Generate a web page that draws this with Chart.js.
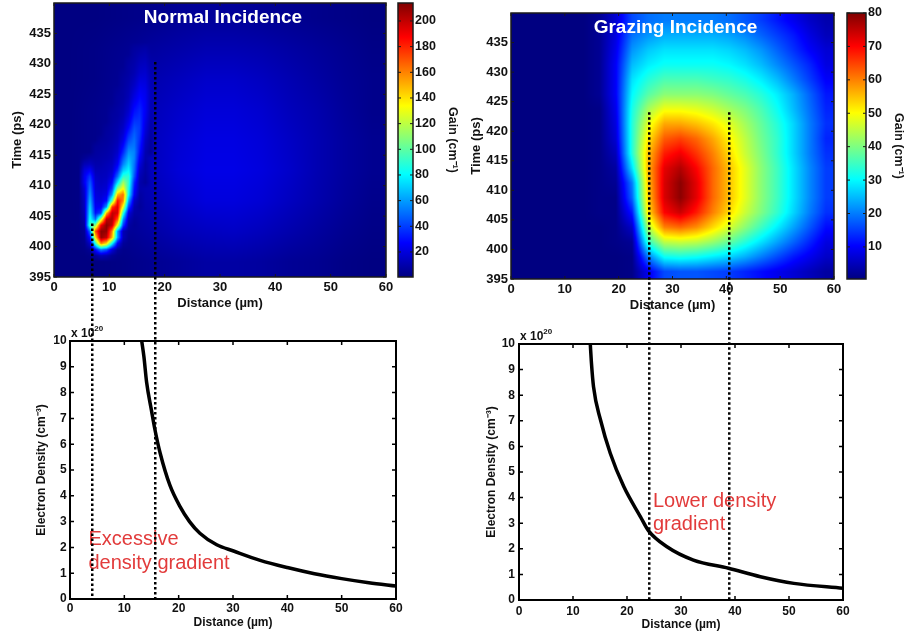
<!DOCTYPE html>
<html>
<head>
<meta charset="utf-8">
<title>Gain maps and electron density</title>
<script src="https://cdn.jsdelivr.net/npm/chart.js@4.4.1/dist/chart.umd.min.js"></script>
<style>
  body { margin: 0; background: #fff; }
  #page { position: relative; width: 906px; height: 636px; overflow: hidden; background: #fff; }
  #page canvas { position: absolute; }
</style>
</head>
<body>
<div id="page">
  <canvas id="gain_normal"></canvas>
  <canvas id="bar_normal"></canvas>
  <canvas id="gain_grazing"></canvas>
  <canvas id="bar_grazing"></canvas>
  <canvas id="density_normal"></canvas>
  <canvas id="density_grazing"></canvas>
  <canvas id="markers" width="906" height="636" style="left:0;top:0"></canvas>
</div>
<script>
const _ = null;

const distanceTicks = [0, 10, 20, 30, 40, 50, 60];
const timeTicks = [395, 400, 405, 410, 415, 420, 425, 430, 435];
const densityTicks = [0, 1, 2, 3, 4, 5, 6, 7, 8, 9, 10];
const normalGainTicks = [20, 40, 60, 80, 100, 120, 140, 160, 180, 200];
const grazingGainTicks = [10, 20, 30, 40, 50, 60, 70, 80];
const normalGainRange = [0.5, 214];
const grazingGainRange = [0.4, 80];

// normal incidence gain (cm^-1), broad background sampled every 5 um x 5 ps
const normalBgDistance = [2.5, 7.5, 12.5, 17.5, 22.5, 27.5, 32.5, 37.5, 42.5, 47.5, 52.5, 57.5];
const normalBgTime = [437.5, 432.5, 427.5, 422.5, 417.5, 412.5, 407.5, 402.5, 397.5];
const normalBgGain = [
  [1, 1, 2, 3, 5, 6, 6, 5, 4, 3, 2, 1],
  [1, 2, 4, 7, 9, 11, 11, 10, 8, 6, 4, 2],
  [1, 2, 5, 10, 13, 16, 16, 14, 11, 8, 5, 3],
  [1, 3, 6, 12, 16, 19, 19, 17, 13, 10, 6, 3],
  [1, 3, 7, 13, 18, 21, 21, 19, 15, 11, 7, 4],
  [1, 3, 7, 13, 19, 22, 22, 20, 16, 11, 7, 4],
  [1, 3, 6, 11, 16, 20, 20, 18, 14, 10, 6, 3],
  [1, 2, 4, 8, 12, 14, 15, 13, 10, 7, 4, 2],
  [1, 1, 2, 4, 6, 8, 8, 7, 5, 4, 2, 1],
];

// normal incidence gain along the V-shaped ridge, every 1 um x 1 ps (null = background)
const normalRidgeDistance = [4.5, 5.5, 6.5, 7.5, 8.5, 9.5, 10.5, 11.5, 12.5, 13.5, 14.5, 15.5, 16.5, 17.5, 18.5];
const normalRidgeTime = [433.5, 432.5, 431.5, 430.5, 429.5, 428.5, 427.5, 426.5, 425.5, 424.5, 423.5, 422.5,
  421.5, 420.5, 419.5, 418.5, 417.5, 416.5, 415.5, 414.5, 413.5, 412.5, 411.5, 410.5, 409.5, 408.5, 407.5,
  406.5, 405.5, 404.5, 403.5, 402.5, 401.5, 400.5, 399.5, 398.5, 397.5];
const normalRidgeGain = [
  [_, _, _, _, _, _, _, _, _, _, _, _, _, _, _],
  [_, _, _, _, _, _, _, _, _, _, 7, 8, 9, 7, _],
  [_, _, _, _, _, _, _, _, _, _, 8, 10, 11, 8, _],
  [_, _, _, _, _, _, _, _, _, 7, 9, 12, 13, 9, _],
  [_, _, _, _, _, _, _, _, _, 8, 10, 14, 15, 10, _],
  [_, _, _, _, _, _, _, _, 6, 8, 11, 16, 17, 11, _],
  [_, _, _, _, _, _, _, _, 7, 9, 13, 19, 19, 12, _],
  [_, _, _, _, _, _, _, _, 7, 10, 15, 22, 21, 12, _],
  [_, _, _, _, _, _, _, 6, 8, 11, 18, 25, 23, 13, _],
  [_, _, _, _, _, _, _, 7, 8, 12, 21, 28, 24, 13, _],
  [_, _, _, _, _, _, _, 7, 9, 14, 25, 31, 25, 12, _],
  [_, _, _, _, _, _, 6, 8, 10, 16, 29, 34, 25, 12, _],
  [_, _, _, _, _, _, 7, 8, 11, 19, 33, 36, 24, 11, _],
  [_, _, _, _, _, _, 7, 9, 13, 23, 38, 38, 22, 10, _],
  [_, _, _, _, _, 6, 8, 10, 15, 28, 43, 39, 20, 9, _],
  [_, _, _, _, _, 7, 8, 11, 18, 35, 47, 38, 18, 8, _],
  [_, _, _, _, 6, 7, 9, 12, 22, 42, 50, 36, 15, 7, _],
  [_, _, _, 6, 7, 8, 10, 14, 28, 50, 52, 33, 13, 7, _],
  [_, _, _, 7, 8, 9, 11, 16, 35, 58, 55, 30, 11, 6, _],
  [_, 5, 8, 8, 9, 10, 12, 20, 45, 65, 55, 25, 10, _, _],
  [_, 12, 14, 10, 10, 12, 14, 25, 55, 72, 52, 20, 8, _, _],
  [_, 20, 26, 12, 12, 13, 16, 35, 70, 80, 50, 15, 8, _, _],
  [_, 24, 38, 15, 13, 14, 20, 50, 90, 90, 45, 12, 7, _, _],
  [_, 24, 46, 17, 14, 16, 28, 75, 115, 90, 35, 10, 6, _, _],
  [_, 18, 52, 18, 16, 18, 40, 110, 135, 85, 30, 10, _, _, _],
  [_, 16, 58, 20, 18, 22, 60, 150, 165, 80, 25, 8, _, _, _],
  [_, 14, 65, 22, 20, 30, 100, 185, 160, 60, 15, 7, _, _, _],
  [_, 13, 72, 25, 25, 60, 175, 195, 130, 40, 10, 6, _, _, _],
  [_, 11, 78, 30, 40, 150, 200, 195, 90, 20, 8, _, _, _, _],
  [_, 9, 85, 50, 120, 200, 205, 170, 60, 12, 6, _, _, _, _],
  [_, 7, 95, 110, 190, 212, 200, 130, 40, 8, 5, _, _, _, _],
  [_, 5, 50, 170, 212, 210, 160, 60, 12, 6, _, _, _, _, _],
  [_, 4, 30, 140, 210, 200, 150, 60, 12, 5, _, _, _, _, _],
  [_, 3, 15, 90, 160, 140, 80, 25, 6, 4, _, _, _, _, _],
  [_, 2, 5, 30, 55, 45, 20, 6, 3, _, _, _, _, _, _],
  [_, _, 2, 6, 12, 10, 5, 3, _, _, _, _, _, _, _],
  [_, _, _, _, _, _, _, _, _, _, _, _, _, _, _],
];

// grazing incidence gain (cm^-1), every 3 um x 2.5 ps
const grazingDistance = [1.5, 4.5, 7.5, 10.5, 13.5, 16.5, 19.5, 22.5, 25.5, 28.5, 31.5, 34.5, 37.5, 40.5,
  43.5, 46.5, 49.5, 52.5, 55.5, 58.5];
const grazingTime = [438.75, 436.25, 433.75, 431.25, 428.75, 426.25, 423.75, 421.25, 418.75, 416.25, 413.75,
  411.25, 408.75, 406.25, 403.75, 401.25, 398.75, 396.25];
const grazingGain = [
  [0.5, 0.5, 0.5, 0.5, 0.5, 2, 7, 16, 19, 20, 20, 20, 20, 19, 17, 15, 12, 9, 6, 4],
  [0.5, 0.5, 0.5, 0.5, 0.5, 2, 8, 19, 22, 24, 24, 24, 24, 23, 21, 18, 15, 12, 8, 5],
  [0.5, 0.5, 0.5, 0.5, 0.5, 2, 9, 22, 26, 28, 28, 28, 28, 27, 25, 22, 18, 14, 10, 7],
  [0.5, 0.5, 0.5, 0.5, 0.5, 2, 10, 25, 29, 31, 31, 31, 31, 30, 28, 25, 21, 17, 13, 8],
  [0.5, 0.5, 0.5, 0.5, 0.5, 2, 10, 28, 33, 36, 36, 36, 35, 34, 32, 29, 25, 20, 15, 10],
  [0.5, 0.5, 0.5, 0.5, 0.5, 2, 10, 30, 37, 41, 41, 41, 40, 38, 36, 33, 29, 24, 18, 12],
  [0.5, 0.5, 0.5, 0.5, 0.5, 1, 9, 32, 43, 49, 49, 48, 46, 43, 40, 36, 31, 25, 19, 13],
  [0.5, 0.5, 0.5, 0.5, 0.5, 1, 8, 33, 48, 57, 57, 55, 52, 48, 43, 38, 33, 27, 20, 14],
  [0.5, 0.5, 0.5, 0.5, 0.5, 1, 7, 33, 52, 63, 65, 62, 57, 51, 45, 39, 34, 27, 20, 13],
  [0.5, 0.5, 0.5, 0.5, 0.5, 1, 5, 33, 55, 68, 71, 66, 60, 53, 46, 40, 34, 27, 20, 14],
  [0.5, 0.5, 0.5, 0.5, 0.5, 1, 3, 28, 56, 72, 76, 70, 62, 55, 48, 41, 35, 28, 21, 15],
  [0.5, 0.5, 0.5, 0.5, 0.5, 1, 2, 20, 55, 73, 79, 72, 62, 55, 48, 41, 35, 28, 21, 15],
  [0.5, 0.5, 0.5, 0.5, 0.5, 1, 1, 18, 54, 73, 79, 72, 62, 55, 48, 41, 35, 28, 21, 15],
  [0.5, 0.5, 0.5, 0.5, 0.5, 1, 1, 12, 52, 70, 74, 68, 60, 53, 46, 40, 34, 27, 20, 14],
  [0.5, 0.5, 0.5, 0.5, 0.5, 0.5, 1, 6, 44, 60, 62, 59, 53, 47, 41, 35, 29, 23, 17, 11],
  [0.5, 0.5, 0.5, 0.5, 0.5, 0.5, 1, 2, 34, 45, 46, 45, 42, 38, 33, 28, 23, 18, 13, 8],
  [0.5, 0.5, 0.5, 0.5, 0.5, 0.5, 0.5, 1, 20, 31, 32, 31, 29, 27, 24, 20, 16, 12, 9, 6],
  [0.5, 0.5, 0.5, 0.5, 0.5, 0.5, 0.5, 1, 9, 16, 17, 17, 16, 15, 13, 11, 9, 7, 5, 3],
];

// electron density profiles (x 10^20 cm^-3)
const normalDistance = [13.2, 13.6, 14.1, 15.0, 15.6, 16.6, 18.4, 20.2, 22.0, 23.9, 27.0, 30.1, 35.0, 40.0, 45.0, 50.0, 55.0, 60.0];
const normalDensity = [10.0, 9.4, 8.4, 7.3, 6.6, 5.65, 4.4, 3.6, 3.0, 2.55, 2.1, 1.86, 1.5, 1.22, 0.98, 0.79, 0.63, 0.5];
const grazingDensityDistance = [13.2, 13.4, 13.8, 15.1, 16.9, 19.4, 22.5, 24.0, 27.4, 32.3, 38.8, 44.7, 50.9, 60.0];
const grazingDensity = [10.0, 9.3, 8.33, 7.03, 5.73, 4.43, 3.25, 2.7, 2.08, 1.56, 1.24, 0.91, 0.65, 0.46];

// dotted guides: distance on the density axes, upper end in time on the gain map
const normalMarkerDistance = [4.1, 15.6];
const normalMarkerTime = [403.8, 430.3];
const grazingMarkerDistance = [24.0, 38.8];
const grazingMarkerTime = [423.2, 423.2];

Chart.defaults.font.family = "'Liberation Sans', Arial, sans-serif";
Chart.defaults.font.weight = 'bold';
Chart.defaults.color = '#111';

function jet(t) {
  t = Math.max(0, Math.min(1, t));
  const c = (v) => Math.max(0, Math.min(1, v));
  return [
    c(Math.min(4 * t - 1.5, -4 * t + 4.5)),
    c(Math.min(4 * t - 0.5, -4 * t + 3.5)),
    c(Math.min(4 * t + 0.5, -4 * t + 2.5)),
  ];
}

function rgb(c) {
  return "rgb(" + c.map((v) => Math.round(v * 255)).join(",") + ")";
}

// place a canvas so that its plot area lands on `area` (page pixels)
function frame(id, area, m) {
  const c = document.getElementById(id);
  c.width = area.r - area.l + m.l + m.r;
  c.height = area.b - area.t + m.t + m.b;
  c.style.left = area.l - m.l + "px";
  c.style.top = area.t - m.t + "px";
  return c;
}

function axis(o) {
  return {
    type: "linear",
    position: o.position,
    min: o.min,
    max: o.max,
    grid: { display: false, drawTicks: false },
    border: { display: false },
    afterBuildTicks: (s) => { s.ticks = o.ticks.map((v) => ({ value: v })); },
    afterFit: (s) => {
      if (s.isHorizontal()) s.height = o.size;
      else s.width = o.size;
      s.paddingLeft = s.paddingRight = s.paddingTop = s.paddingBottom = 0;
    },
    ticks: { padding: o.pad, font: { size: o.font }, maxRotation: 0, autoSkip: false },
    title: { display: !!o.title, text: o.title, font: { size: o.font }, padding: o.titlePad },
  };
}

// black frame with inward tick marks on every side
function boxPlugin(opt) {
  return {
    id: "box",
    afterDatasetsDraw(chart) {
      const { ctx, chartArea: a, scales } = chart;
      ctx.save();
      ctx.strokeStyle = opt.color;
      ctx.lineWidth = opt.width;
      ctx.strokeRect(a.left, a.top, a.right - a.left, a.bottom - a.top);
      ctx.lineWidth = opt.tickWidth;
      ctx.beginPath();
      if (opt.xTicks) {
        scales.x.ticks.forEach((t) => {
          const px = scales.x.getPixelForValue(t.value);
          ctx.moveTo(px, a.bottom); ctx.lineTo(px, a.bottom - opt.tick);
          ctx.moveTo(px, a.top); ctx.lineTo(px, a.top + opt.tick);
        });
      }
      scales.y.ticks.forEach((t) => {
        const py = scales.y.getPixelForValue(t.value);
        ctx.moveTo(a.left, py); ctx.lineTo(a.left + opt.tick, py);
        ctx.moveTo(a.right, py); ctx.lineTo(a.right - opt.tick, py);
      });
      ctx.stroke();
      ctx.restore();
    },
  };
}

// bilinear lookup into a gridded layer; null cells drop out and lower the weight
function sampler(layer, extend) {
  const xs = layer.x, ys = layer.y, values = layer.values;
  const cols = xs.length, rows = ys.length;
  const sx = xs[1] - xs[0], sy = ys[0] - ys[1];
  return (x, y) => {
    let fx = (x - xs[0]) / sx, fy = (ys[0] - y) / sy;
    if (extend) {
      fx = Math.max(0, Math.min(cols - 1, fx));
      fy = Math.max(0, Math.min(rows - 1, fy));
    } else if (fx < 0 || fy < 0 || fx > cols - 1 || fy > rows - 1) {
      return null;
    }
    const i = Math.min(Math.floor(fx), cols - 2), j = Math.min(Math.floor(fy), rows - 2);
    const tx = fx - i, ty = fy - j;
    const corners = [
      [values[j][i], (1 - tx) * (1 - ty)], [values[j][i + 1], tx * (1 - ty)],
      [values[j + 1][i], (1 - tx) * ty], [values[j + 1][i + 1], tx * ty],
    ];
    let sum = 0, w = 0;
    corners.forEach(([v, k]) => { if (v !== null) { sum += v * k; w += k; } });
    return w > 0 ? { v: sum / w, w: w } : null;
  };
}

function heatPlugin(layers, range, title) {
  return {
    id: "heat",
    beforeDatasetsDraw(chart) {
      const { ctx, chartArea: a, scales } = chart;
      const w = Math.round(a.right - a.left), h = Math.round(a.bottom - a.top);
      const samplers = layers.map((l, k) => sampler(l, k === 0));
      const img = ctx.createImageData(w, h);
      for (let py = 0; py < h; py++) {
        const y = scales.y.getValueForPixel(a.top + py + 0.5);
        for (let px = 0; px < w; px++) {
          const x = scales.x.getValueForPixel(a.left + px + 0.5);
          let v = 0;
          samplers.forEach((s) => {
            const r = s(x, y);
            if (r) v = r.v * r.w + v * (1 - r.w);
          });
          const c = jet((v - range[0]) / (range[1] - range[0]));
          const i = (py * w + px) * 4;
          img.data[i] = c[0] * 255;
          img.data[i + 1] = c[1] * 255;
          img.data[i + 2] = c[2] * 255;
          img.data[i + 3] = 255;
        }
      }
      ctx.putImageData(img, Math.round(a.left), Math.round(a.top));
    },
    afterDraw(chart) {
      const { ctx, chartArea: a } = chart;
      ctx.save();
      ctx.fillStyle = "#fff";
      ctx.font = "bold 19px 'Liberation Sans', Arial, sans-serif";
      ctx.textAlign = "center";
      ctx.textBaseline = "middle";
      ctx.fillText(title, (a.left + a.right) / 2 + 3, a.top + 15);
      ctx.restore();
    },
  };
}

function gainMap(id, L, layers, range, title) {
  return new Chart(frame(id, L.area, L.m), {
    type: "scatter",
    data: { datasets: [] },
    options: {
      responsive: false,
      animation: false,
      events: [],
      layout: { padding: { left: 0, top: L.m.t, right: L.m.r, bottom: 0 } },
      plugins: { legend: { display: false }, tooltip: { enabled: false } },
      scales: {
        x: axis({ position: "bottom", min: 0, max: 60, ticks: distanceTicks, size: L.m.b, pad: 3,
          font: 13, title: "Distance (µm)", titlePad: { bottom: 6 } }),
        y: axis({ position: "left", min: 395, max: 440, ticks: timeTicks, size: L.m.l, pad: 3,
          font: 13, title: "Time (ps)", titlePad: { top: L.yTitle } }),
      },
    },
    plugins: [heatPlugin(layers, range, title),
      boxPlugin({ color: "#1a1a1a", width: 1.5, tickWidth: 1, tick: 3, xTicks: true })],
  });
}

function gainBar(id, L, range, ticks) {
  return new Chart(frame(id, L.area, L.m), {
    type: "bar",
    data: {
      labels: [""],
      datasets: [{
        data: [[range[0], range[1]]],
        barPercentage: 1,
        categoryPercentage: 1,
        borderWidth: 0,
        backgroundColor: (c) => {
          const a = c.chart.chartArea;
          if (!a) return "#00008b";
          const g = c.chart.ctx.createLinearGradient(0, a.bottom, 0, a.top);
          [0, 0.125, 0.375, 0.625, 0.875, 1].forEach((t) => g.addColorStop(t, rgb(jet(t))));
          return g;
        },
      }],
    },
    options: {
      responsive: false,
      animation: false,
      events: [],
      layout: { padding: { left: L.m.l, top: L.m.t, right: 0, bottom: L.m.b } },
      plugins: { legend: { display: false }, tooltip: { enabled: false } },
      scales: {
        x: { display: false },
        y: axis({ position: "right", min: range[0], max: range[1], ticks: ticks, size: L.m.r, pad: 2,
          font: 12.5, title: "Gain (cm⁻¹)", titlePad: { top: L.yTitle } }),
      },
    },
    plugins: [boxPlugin({ color: "#1a1a1a", width: 1.5, tickWidth: 1, tick: 3, xTicks: false })],
  });
}

// red annotation lines and the "x 10^20" multiplier above the axis
function notePlugin(note) {
  return {
    id: "note",
    afterDraw(chart) {
      const { ctx, chartArea: a, scales } = chart;
      ctx.save();
      ctx.fillStyle = "#e23b3b";
      ctx.font = "20px 'Liberation Sans', Arial, sans-serif";
      ctx.textBaseline = "alphabetic";
      const x = scales.x.getPixelForValue(note.x);
      const y = scales.y.getPixelForValue(note.y);
      note.lines.forEach((t, i) => ctx.fillText(t, x, y + i * note.spacing));

      ctx.fillStyle = "#111";
      ctx.font = "bold 12px 'Liberation Sans', Arial, sans-serif";
      ctx.fillText("x 10", a.left + 1, a.top - 4);
      const w = ctx.measureText("x 10").width;
      ctx.font = "bold 8px 'Liberation Sans', Arial, sans-serif";
      ctx.fillText("20", a.left + 1 + w, a.top - 10);
      ctx.restore();
    },
  };
}

function densityChart(id, L, xs, ys, note) {
  return new Chart(frame(id, L.area, L.m), {
    type: "line",
    data: {
      datasets: [{
        data: xs.map((x, i) => ({ x: x, y: ys[i] })),
        borderColor: "#000",
        borderWidth: 3.5,
        pointRadius: 0,
        fill: false,
        cubicInterpolationMode: "monotone",
      }],
    },
    options: {
      responsive: false,
      animation: false,
      events: [],
      layout: { padding: { left: 0, top: L.m.t, right: L.m.r, bottom: 0 } },
      plugins: { legend: { display: false }, tooltip: { enabled: false } },
      scales: {
        x: axis({ position: "bottom", min: 0, max: 60, ticks: distanceTicks, size: L.m.b, pad: L.xPad,
          font: 12, title: "Distance (µm)", titlePad: { bottom: L.xTitle } }),
        y: axis({ position: "left", min: 0, max: 10, ticks: densityTicks, size: L.m.l, pad: L.yPad,
          font: 12, title: "Electron Density (cm⁻³)", titlePad: { top: L.yTitle } }),
      },
    },
    plugins: [notePlugin(note),
      boxPlugin({ color: "#000", width: 2, tickWidth: 1.5, tick: 4, xTicks: true })],
  });
}

function drawMarkers(top, bottom, distances, times) {
  const ctx = document.getElementById("markers").getContext("2d");
  const bx = bottom.canvas.offsetLeft, by = bottom.canvas.offsetTop, ty = top.canvas.offsetTop;
  ctx.save();
  ctx.strokeStyle = "#000";
  ctx.lineWidth = 2.5;
  ctx.setLineDash([2.5, 2.5]);
  distances.forEach((d, i) => {
    const x = Math.round(bx + bottom.scales.x.getPixelForValue(d)) + 0.25;
    ctx.beginPath();
    ctx.moveTo(x, ty + top.scales.y.getPixelForValue(times[i]));
    ctx.lineTo(x, by + bottom.scales.y.getPixelForValue(0));
    ctx.stroke();
  });
  ctx.restore();
}

const gainNormalLayout = { area: { l: 54, t: 3, r: 386, b: 277 }, m: { l: 54, t: 3, r: 12, b: 40 }, yTitle: 10 };
const barNormalLayout = { area: { l: 398, t: 3, r: 413, b: 277 }, m: { l: 4, t: 3, r: 50, b: 6 }, yTitle: 3 };
const gainGrazingLayout = { area: { l: 511, t: 13, r: 834, b: 279 }, m: { l: 51, t: 13, r: 10, b: 40 }, yTitle: 8.7 };
const barGrazingLayout = { area: { l: 847, t: 13, r: 866, b: 279 }, m: { l: 3, t: 13, r: 40, b: 6 }, yTitle: 0 };
const densityNormalLayout = { area: { l: 70, t: 341, r: 396, b: 599 }, m: { l: 50, t: 22, r: 15, b: 34 },
  yTitle: 14.5, xTitle: 2.8, xPad: 2.8, yPad: 3.3 };
const densityGrazingLayout = { area: { l: 519, t: 344, r: 843, b: 600 }, m: { l: 50, t: 22, r: 15, b: 34 },
  yTitle: 15.5, xTitle: 1.8, xPad: 4.5, yPad: 4 };

document.addEventListener("DOMContentLoaded", function () {
  const gainNormal = gainMap("gain_normal", gainNormalLayout, [
    { x: normalBgDistance, y: normalBgTime, values: normalBgGain },
    { x: normalRidgeDistance, y: normalRidgeTime, values: normalRidgeGain },
  ], normalGainRange, "Normal Incidence");
  gainBar("bar_normal", barNormalLayout, normalGainRange, normalGainTicks);

  const gainGrazing = gainMap("gain_grazing", gainGrazingLayout, [
    { x: grazingDistance, y: grazingTime, values: grazingGain },
  ], grazingGainRange, "Grazing Incidence");
  gainBar("bar_grazing", barGrazingLayout, grazingGainRange, grazingGainTicks);

  const densityNormal = densityChart("density_normal", densityNormalLayout, normalDistance, normalDensity,
    { lines: ["Excessive", "density gradient"], x: 3.4, y: 2.09, spacing: 24 });
  const densityGrazing = densityChart("density_grazing", densityGrazingLayout, grazingDensityDistance, grazingDensity,
    { lines: ["Lower density", "gradient"], x: 24.8, y: 3.63, spacing: 23 });

  drawMarkers(gainNormal, densityNormal, normalMarkerDistance, normalMarkerTime);
  drawMarkers(gainGrazing, densityGrazing, grazingMarkerDistance, grazingMarkerTime);
});
</script>
</body>
</html>
